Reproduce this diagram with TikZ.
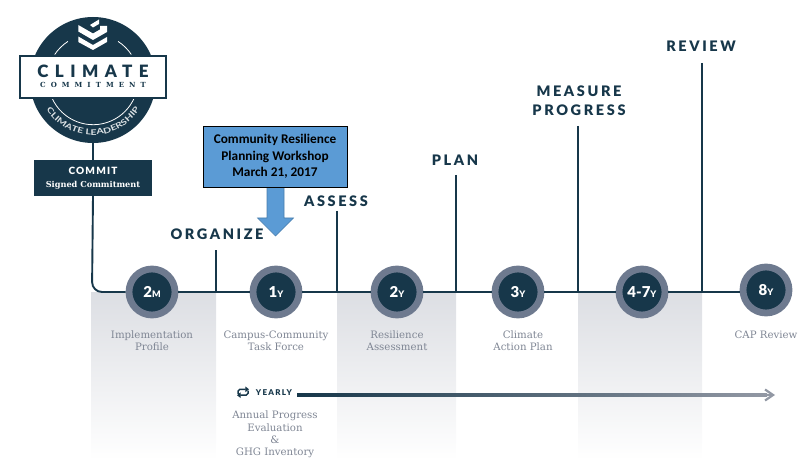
\documentclass[tikz,border=0pt]{standalone}
\usepackage{fontspec}
\usetikzlibrary{arrows.meta,decorations.text,calc}
\setmainfont{Lato}
\newfontfamily\headfont[LetterSpace=18]{Lato Black}
\newfontfamily\smallcap[LetterSpace=12]{Lato Black}
\newfontfamily\numfont{Lato Black}
\newfontfamily\arcfont[FakeStretch=1.35]{Lato Bold}
\newfontfamily\slab{DejaVu Serif}
\newfontfamily\calib{Carlito}
\definecolor{navy}{HTML}{17374A}
\definecolor{ringc}{HTML}{6E7A8F}
\definecolor{labelc}{HTML}{7F8694}
\definecolor{bandc}{HTML}{DCDEE3}
\definecolor{wsblue}{HTML}{5B9BD5}
\definecolor{wsedge}{HTML}{41719C}
\tikzset{
  stage/.style={circle,fill=navy,draw=ringc,line width=6.8pt,minimum size=46pt,inner sep=0pt,text=white,font=\numfont\fontsize{15}{15}\selectfont},
  phase/.style={font=\headfont\fontsize{14.5}{19}\selectfont,text=navy,align=center,inner sep=0pt},
  desc/.style={font=\slab\fontsize{10.2}{12.2}\selectfont,text=labelc,align=center,inner sep=0pt},
  tline/.style={draw=navy,line width=1.9pt},
  band/.style={top color=bandc,bottom color=white,draw=none},
  badgearc/.style={white,line width=.8pt},
  cycleicon/.style={navy,line width=1.5pt,rounded corners=1.8pt,-{Triangle[length=3.6pt,width=5.4pt]}}
}
\newcommand{\stg}[2]{#1{\fontsize{9}{9}\selectfont #2}}
\begin{document}
\begin{tikzpicture}[x=1pt,y=-1pt]
\useasboundingbox (0,0) rectangle (811,473);
% bands
\shade[band] (91,292) rectangle (216,460);
\shade[band] (337,292) rectangle (456,460);
\shade[band] (578,292) rectangle (702,460);
% logo
\node[circle,fill=navy,minimum size=126pt,inner sep=0pt] (badge) at (93,80) {};
\draw[badgearc] (54.7,54.5) arc[start angle=213.7,end angle=237,radius=46];
\draw[badgearc] (131.3,54.5) arc[start angle=-33.7,end angle=-57,radius=46];
\draw[badgearc] (52,98) arc[start angle=156,end angle=24,radius=45];
% chevrons
\fill[white] (90,25) -- (99,19.5) -- (99,24) -- (93,27.5) -- cycle;
\fill[white] (78.3,25) -- (93,33.5) -- (100,29.5) -- (100,26) -- (107,26) -- (107,32) -- (93,40) -- (78.3,31.5) -- cycle;
\fill[white] (78.3,36.5) -- (93,45) -- (107,37) -- (107,42) -- (93,50) -- (78.3,42) -- cycle;
\node[draw=navy,fill=white,line width=1.4pt,minimum width=146pt,minimum height=42pt,inner sep=0pt] (nameplate) at (93,77) {};
\node[font=\headfont\fontsize{17}{17}\selectfont,text=navy,inner sep=0pt] (climatett) at (93,71) {\addfontfeature{LetterSpace=38}CLIMATE};
\node[font=\slab\bfseries\fontsize{7}{8}\selectfont,text=navy,inner sep=0pt] (committt) at (93,85) {\addfontfeature{LetterSpace=72}COMMITMENT};
\path[postaction={decorate,decoration={text along path,text align=center,
  text={|\arcfont\fontsize{7.8}{8}\selectfont\color{white!85!navy}|CLIMATE LEADERSHIP}}}]
  (41.3,98.8) arc[start angle=160,end angle=20,radius=55];
% commit
\node[fill=navy,minimum width=118pt,minimum height=36pt,inner sep=0pt,align=center,text=white] (commit) at (93,178)
  {{\smallcap\fontsize{10}{12}\selectfont COMMIT}\\[1pt]{\slab\bfseries\fontsize{8.2}{11}\selectfont Signed Commitment}};
% verticals tops
\coordinate (bend) at (92,292);
\coordinate (torg) at (216,250);
\coordinate (bork) at (216,292);
\coordinate (tass) at (337,211);
\coordinate (bass) at (337,292);
\coordinate (tpla) at (456,175);
\coordinate (bpla) at (456,292);
\coordinate (tmea) at (578,126);
\coordinate (bmea) at (578,292);
\coordinate (trev) at (702,63);
\coordinate (brev) at (702,292);
% stages
\node[stage] (s1) at (152,292) {\stg{2}{M}};
\node[stage] (s2) at (276,292) {\stg{1}{Y}};
\node[stage] (s3) at (397,292) {\stg{2}{Y}};
\node[stage] (s4) at (518,292) {\stg{3}{Y}};
\node[stage] (s5) at (642,292) {\stg{4-7}{Y}};
\node[stage] (s6) at (766,290) {\stg{8}{Y}};
% connectors
\draw[tline] (badge.south) -- (commit.north);
\draw[tline,rounded corners=10pt] (commit.south) -- (bend) -- (s1.west);
\draw[tline] (s1.east) -- (s2.west);
\draw[tline] (s2.east) -- (s3.west);
\draw[tline] (s3.east) -- (s4.west);
\draw[tline] (s4.east) -- (s5.west);
\draw[tline] (s5.east) -- (s5.east -| s6.west);
\draw[tline] (torg) -- (bork);
\draw[tline] (tass) -- (bass);
\draw[tline] (tpla) -- (bpla);
\draw[tline] (tmea) -- (bmea);
\draw[tline] (trev) -- (brev);
% phase labels
\node[phase] (lorg) at (217,234) {ORGANIZE};
\node[phase] (lass) at (336,201) {ASSESS};
\node[phase] (lpla) at (455,160) {PLAN};
\node[phase] (lmea) at (579,101) {MEASURE\\PROGRESS};
\node[phase] (lrev) at (701,46) {REVIEW};
% descriptions
\node[desc] (d1) at (152,340.5) {Implementation\\Profile};
\node[desc] (d2) at (276,340.5) {Campus-Community\\Task Force};
\node[desc] (d3) at (397,340.5) {Resilience\\Assessment};
\node[desc] (d4) at (523,340.5) {Climate\\Action Plan};
\node[desc] (d6) at (766,334.5) {CAP Review};
% yearly
\node[inner sep=0pt,text=navy,font=\smallcap\fontsize{8}{9}\selectfont] (yr) at (274,393) {\addfontfeature{LetterSpace=16}YEARLY};
\draw[cycleicon] (238,394) -- (238,389.3) -- (249,389.3);
\draw[cycleicon] (248,390.5) -- (248,395.2) -- (237,395.2);
\node[inner sep=0pt,minimum width=470pt,minimum height=2.6pt,left color=navy,right color=labelc!85!white,anchor=west] (ybar) at (297,395) {};
\coordinate (yend) at (775,395);
\draw[-{Straight Barb[length=8pt,width=11pt,line width=2.2pt]},labelc!85!white,line width=2.6pt] (ybar.east) -- (yend);
\node[desc] (d7) at (275,434.5) {Annual Progress\\Evaluation\\\&\\GHG Inventory};
% workshop
\draw[fill=wsblue,draw=wsedge!70!wsblue,line width=.6pt] (267,187) -- (284,187) -- (284,218) -- (293.5,218) -- (275.5,236) -- (257.5,218) -- (267,218) -- cycle;
\node[fill=wsblue,draw=black,line width=.9pt,minimum width=144pt,minimum height=61pt,inner sep=0pt,align=center,
  font=\calib\bfseries\fontsize{13.3}{16.5}\selectfont,text=black] (ws) at (275,156.5) {Community Resilience\\Planning Workshop\\March 21, 2017};
\end{tikzpicture}
\end{document}
